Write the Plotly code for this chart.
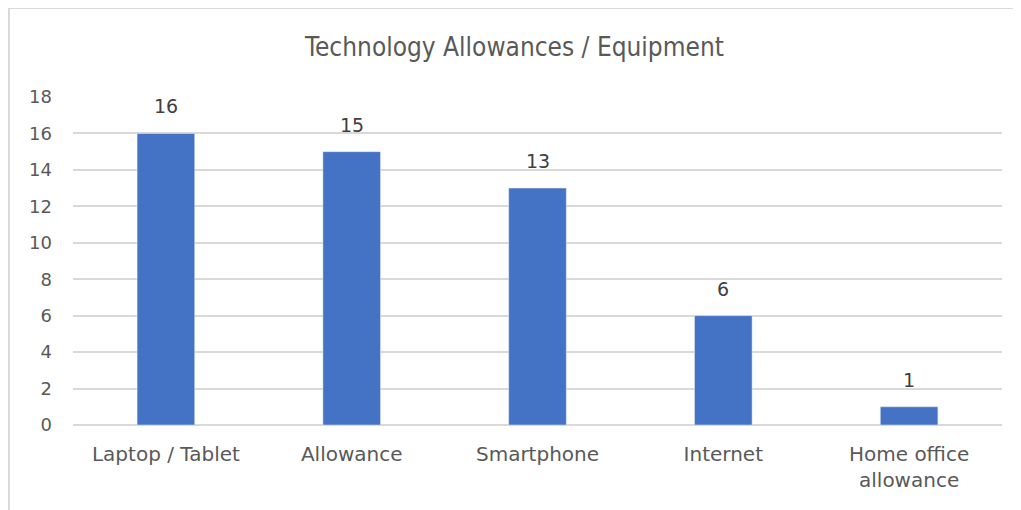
import plotly.graph_objects as go

categories = ["Laptop / Tablet", "Allowance", "Smartphone", "Internet", "Home office<br>allowance"]
values = [16, 15, 13, 6, 1]
y_ticks = [0, 2, 4, 6, 8, 10, 12, 14, 16, 18]

OFF = 8  # page body margin offset
W, H = 1021 - OFF, 510 - OFF
L, R, T, B = 73 - OFF, 19, 97 - OFF, 85
pw, ph = W - L - R, H - T - B

def px_x(x):
    return (x - OFF - L) / pw

def px_y(y):
    return (H - B - (y - OFF)) / ph

font = "DejaVu Sans"
grey = "#595959"

fig = go.Figure(go.Bar(
    x=categories, y=values,
    marker_color="#4472C4",
))

for c, v in zip(categories, values):
    fig.add_annotation(x=c, y=v, text=str(v), showarrow=False, xanchor="center",
                       yanchor="bottom", yshift=14,
                       font=dict(size=19, color="#404040", family=font))

fig.update_layout(
    width=W, height=H,
    margin=dict(l=L, r=R, t=T, b=B),
    paper_bgcolor="white", plot_bgcolor="white",
    bargap=0.69,
    showlegend=False,
    title=dict(text="Technology Allowances / Equipment", x=0.5, xanchor="center",
               y=1 - (47 - OFF) / H, yanchor="middle",
               font=dict(size=26, color=grey, family="DejaVu Sans Condensed")),
    xaxis=dict(showgrid=False, showline=False, ticks="", ticklabelstandoff=15,
               tickfont=dict(size=20, color=grey, family=font)),
    yaxis=dict(range=[0, 18], tickvals=y_ticks, showgrid=True, gridcolor="#D9D9D9",
               gridwidth=2, zeroline=True, zerolinecolor="#D9D9D9", zerolinewidth=2,
               ticks="", ticklabelstandoff=20,
               tickfont=dict(size=18, color=grey, family=font)),
    shapes=[dict(type="path", xref="paper", yref="paper",
                 path=f"M {px_x(9)} {px_y(520)} L {px_x(9)} {px_y(8)} L {px_x(1030)} {px_y(8)}",
                 line=dict(color="#D9D9D9", width=2), layer="below")],
)

fig.write_html("out.html")
